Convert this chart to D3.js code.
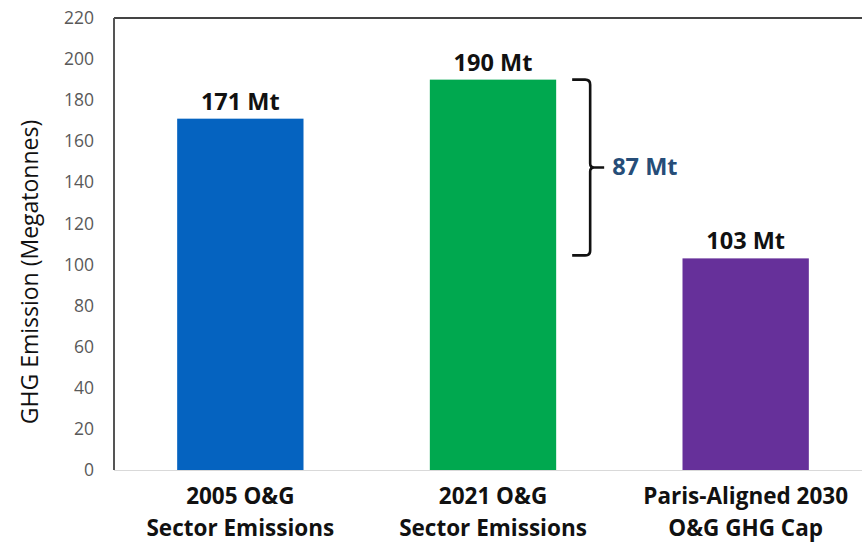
<!DOCTYPE html>
<html><head><meta charset="utf-8">
<script src="https://cdn.jsdelivr.net/npm/d3@7"></script>
<style>body{margin:0;background:#fff}svg{display:block}</style>
</head><body>
<svg id="chart" width="862" height="542"></svg>
<script>
const categories = [["2005 O&G","Sector Emissions"],["2021 O&G","Sector Emissions"],["Paris-Aligned 2030","O&G GHG Cap"]];
const values = [171, 190, 103];
const valueLabels = ["171 Mt","190 Mt","103 Mt"];
const colors = ["#0563c0","#00a84f","#66309a"];
const yTicks = [0,20,40,60,80,100,120,140,160,180,200,220];
const gapLabel = "87 Mt";
const yTitle = "GHG Emission (Megatonnes)";

const svg = d3.select("#chart");
const font = "'Open Sans', sans-serif";
const pLeft = 114, pRight = 872, pTop = 18, pBottom = 470;

const x = d3.scaleBand().domain(d3.range(values.length)).range([pLeft, pRight]).paddingInner(0.5).paddingOuter(0.25);
const y = d3.scaleLinear().domain([0, 220]).range([pBottom, pTop]);

// y tick labels
const yAxis = d3.axisLeft(y).tickValues(yTicks).tickSize(0).tickPadding(20);
const gy = svg.append("g").attr("transform", `translate(${pLeft},0)`).call(yAxis);
gy.select(".domain").remove();
gy.selectAll("text").attr("font-family", font).attr("font-size", 17.5).attr("fill", "#595959");

// frame lines
svg.append("line").attr("x1", pLeft).attr("x2", 862).attr("y1", pTop).attr("y2", pTop).attr("stroke", "#444").attr("stroke-width", 2);
svg.append("line").attr("x1", pLeft).attr("x2", pLeft).attr("y1", pTop).attr("y2", pBottom).attr("stroke", "#555").attr("stroke-width", 2);

// bars
svg.selectAll("rect.bar").data(values).join("rect").attr("class","bar")
  .attr("x", (d,i) => x(i)).attr("width", x.bandwidth())
  .attr("y", d => y(d)).attr("height", d => y(0) - y(d))
  .attr("fill", (d,i) => colors[i]);

// baseline
svg.append("line").attr("x1", pLeft).attr("x2", 862).attr("y1", pBottom + 0.5).attr("y2", pBottom + 0.5).attr("stroke", "#d9d9d9").attr("stroke-width", 1);

// value labels
svg.selectAll("text.val").data(values).join("text").attr("class","val")
  .attr("x", (d,i) => x(i) + x.bandwidth()/2).attr("y", d => y(d) - 9)
  .attr("text-anchor", "middle").attr("font-family", font).attr("font-weight", "bold")
  .attr("font-size", 23.5).attr("fill", "#111").text((d,i) => valueLabels[i]);

// category labels
const cg = svg.selectAll("text.cat").data(categories).join("text").attr("class","cat")
  .attr("text-anchor", "middle").attr("font-family", font).attr("font-weight", "bold")
  .attr("font-size", 22.5).attr("fill", "#111");
cg.each(function(lines, i) {
  const t = d3.select(this);
  lines.forEach((l, j) => t.append("tspan").attr("x", x(i) + x.bandwidth()/2).attr("y", 504 + j*32).text(l));
});

// y title
svg.append("text").attr("transform", `translate(38,272) rotate(-90)`)
  .attr("text-anchor", "middle").attr("font-family", font).attr("font-size", 23).attr("fill", "#111").text(yTitle);

// brace between bar 2 top and bar 3 top
const bx = x(1) + x.bandwidth() + 16;
const yT = y(values[1]), yB = y(values[2]) - 3, yM = (yT + yB) / 2;
const r = 5, w = 18;
const path = d3.path();
path.moveTo(bx, yT);
path.lineTo(bx + w - r, yT);
path.quadraticCurveTo(bx + w, yT, bx + w, yT + r);
path.lineTo(bx + w, yM - 4);
path.quadraticCurveTo(bx + w, yM, bx + w + 4, yM);
path.lineTo(bx + w + 14, yM);
path.moveTo(bx + w + 4, yM);
path.quadraticCurveTo(bx + w, yM, bx + w, yM + 4);
path.lineTo(bx + w, yB - r);
path.quadraticCurveTo(bx + w, yB, bx + w - r, yB);
path.lineTo(bx, yB);
svg.append("path").attr("d", path.toString()).attr("fill", "none").attr("stroke", "#111").attr("stroke-width", 2.6);

svg.append("text").attr("x", bx + w + 22).attr("y", yM + 7).attr("font-family", font).attr("font-weight", "bold")
  .attr("font-size", 23.5).attr("fill", "#264d78").text(gapLabel);
</script>
</body></html>
